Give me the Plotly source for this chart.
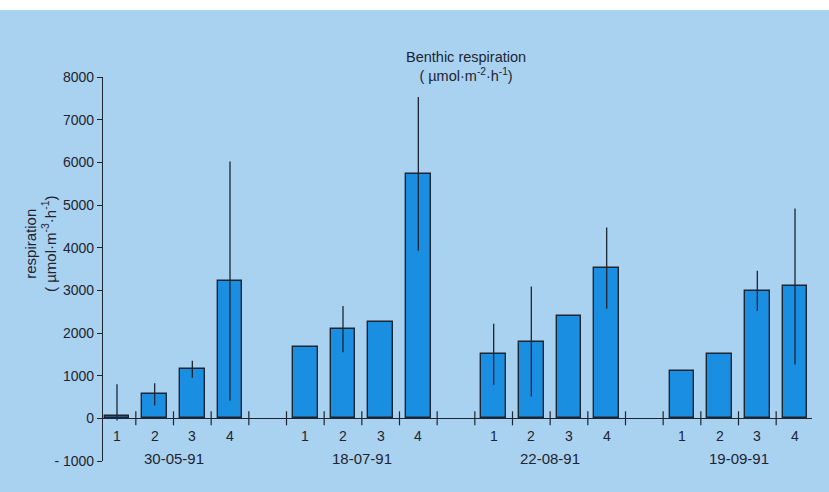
import plotly.graph_objects as go

# ---- data ----
dates = ["30-05-91", "18-07-91", "22-08-91", "19-09-91"]
stations = ["1", "2", "3", "4"]
resp_30_05 = [50, 560, 1150, 3220]
resp_18_07 = [1670, 2090, 2250, 5730]
resp_22_08 = [1500, 1800, 2390, 3520]
resp_19_09 = [1100, 1500, 2990, 3090]
err_30_05 = [750, 260, 200, 2800]
err_18_07 = [0, 540, 0, 1800]
err_22_08 = [715, 1290, 0, 950]
err_19_09 = [0, 0, 470, 1830]
errminus_30_05 = [100, 260, 200, 2800]
y_ticks = [-1000, 0, 1000, 2000, 3000, 4000, 5000, 6000, 7000, 8000]

values = [resp_30_05, resp_18_07, resp_22_08, resp_19_09]
errs = [err_30_05, err_18_07, err_22_08, err_19_09]
errs_minus = [errminus_30_05, err_18_07, err_22_08, err_19_09]

BG = "#a9d2f1"
BAR = "#1a8fe2"
INK = "#1e2430"
FONT = "Liberation Sans"

gap = 1
n = len(stations)
xs, ys, ep, em, lab = [], [], [], [], []
for g in range(len(dates)):
    for i in range(n):
        xs.append(g * (n + gap) + i)
        ys.append(values[g][i])
        ep.append(errs[g][i])
        em.append(errs_minus[g][i])
        lab.append(stations[i])
last = (len(dates) - 1) * (n + gap) + n - 1
bounds = [k + 0.5 for k in range(0, last + 1)]

fig = go.Figure()
fig.add_trace(go.Bar(
    x=xs, y=ys, width=0.66,
    marker=dict(color=BAR, line=dict(color=INK, width=1.4)),
    error_y=dict(type="data", array=ep, arrayminus=em, symmetric=False,
                 color=INK, thickness=1.3, width=0),
    showlegend=False, hoverinfo="skip",
))
# tick marks crossing the zero axis between bars
fig.add_trace(go.Scatter(
    x=bounds, y=[0] * len(bounds), mode="markers",
    marker=dict(symbol="line-ns", size=10, line=dict(color=INK, width=1.2)),
    showlegend=False, hoverinfo="skip", cliponaxis=False,
))

annotations = []
for x, t in zip(xs, lab):
    annotations.append(dict(x=x, y=-420, xref="x", yref="y", text=t,
                            showarrow=False, font=dict(size=14, color=INK, family=FONT)))
for g, d in enumerate(dates):
    cx = g * (n + gap) + (n - 1) / 2
    annotations.append(dict(x=cx, y=-930, xref="x", yref="y", text=d,
                            showarrow=False, font=dict(size=15, color=INK, family=FONT)))

# pixel-based positions converted to paper
L, R, T, B = 103, 17, 77, 31
W, H = 829, 492
pw, ph = W - L - R, H - T - B
def px(xp):
    return (xp - L) / pw
def py(yp):
    return (H - B - yp) / ph

annotations.append(dict(
    x=px(466), y=py(66), xref="paper", yref="paper",
    text="Benthic respiration<br>( µmol·m<sup>-2</sup>·h<sup>-1</sup>)",
    showarrow=False, align="center", xanchor="center", yanchor="middle",
    font=dict(size=14.5, color=INK, family=FONT)))
annotations.append(dict(
    x=px(40), y=py(244), xref="paper", yref="paper",
    text="respiration<br>( µmol·m<sup>-3</sup>·h<sup>-1</sup>)",
    showarrow=False, align="center", textangle=-90,
    xanchor="center", yanchor="middle",
    font=dict(size=15, color=INK, family=FONT)))

fig.update_layout(
    width=W, height=H,
    margin=dict(l=L, r=R, t=T, b=B),
    paper_bgcolor=BG, plot_bgcolor=BG,
    font=dict(family=FONT, color=INK, size=14),
    annotations=annotations,
    shapes=[dict(type="rect", xref="paper", yref="paper",
                 x0=px(0), x1=px(W), y0=py(10), y1=py(0),
                 fillcolor="white", line=dict(width=0), layer="below")],
    bargap=0,
)
fig.update_xaxes(range=[-14 / 37.67, last + 17 / 37.67], showgrid=False,
                 zeroline=False, showticklabels=False, ticks="", showline=False)
fig.update_yaxes(range=[-1000, 8000], tickvals=y_ticks,
                 ticktext=[str(v).replace("-", "- ") for v in y_ticks],
                 showgrid=False, zeroline=True, zerolinecolor=INK, zerolinewidth=1.2,
                 showline=True, linecolor=INK, linewidth=1.2,
                 ticks="outside", ticklen=5, tickcolor=INK, tickwidth=1.2,
                 tickfont=dict(size=14, color=INK, family=FONT))

fig.write_html("out.html")
